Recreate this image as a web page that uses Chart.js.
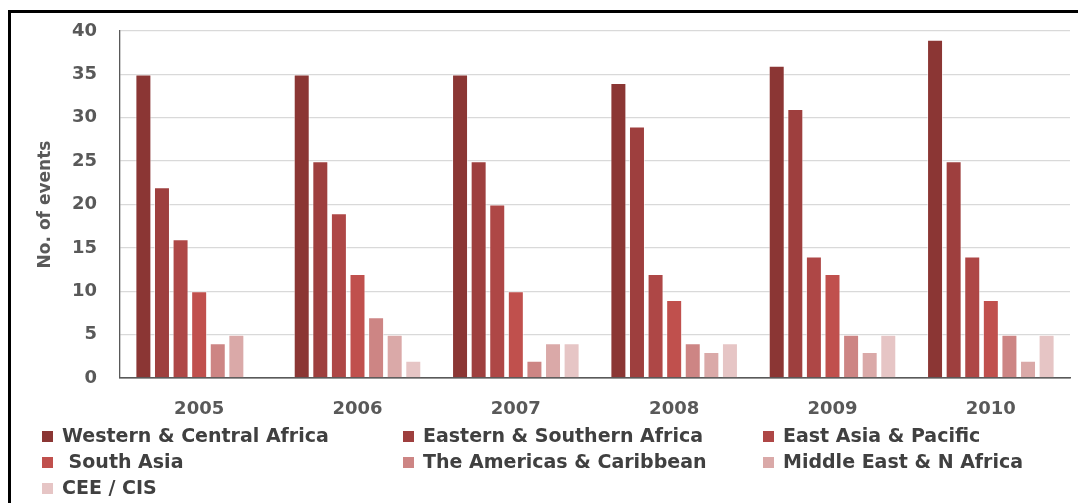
<!DOCTYPE html>
<html>
<head>
<meta charset="utf-8">
<script src="https://cdn.jsdelivr.net/npm/chart.js@4.4.1/dist/chart.umd.min.js"></script>
<style>
  html, body { margin: 0; padding: 0; background: #fff; }
  #wrap { position: relative; width: 1078px; height: 503px; overflow: hidden; }
  #frame { position: absolute; left: 8px; top: 10px; width: 1200px; height: 600px;
           border-left: 3px solid #000; border-top: 3px solid #000; box-sizing: border-box; }
  canvas { position: absolute; left: 0; top: 0; }
  #legend { position: absolute; left: 0; top: 0; width: 1078px; height: 503px; pointer-events: none;
            font-family: "DejaVu Sans", sans-serif; font-weight: 700; font-size: 19px; color: #404040; }
  .li { position: absolute; white-space: nowrap; line-height: 22px; }
  .sw { position: absolute; width: 11px; height: 11px; }
</style>
</head>
<body>
<div id="wrap">
  <canvas id="c" width="1078" height="503"></canvas>
  <div id="frame"></div>
  <div id="legend"></div>
</div>
<script>
const years = ["2005", "2006", "2007", "2008", "2009", "2010"];
const seriesNames = [
  "Western & Central Africa",
  "Eastern & Southern Africa",
  "East Asia & Pacific",
  " South Asia",
  "The Americas & Caribbean",
  "Middle East & N Africa",
  "CEE / CIS"
];
const westernCentralAfrica = [35, 35, 35, 34, 36, 39];
const easternSouthernAfrica = [22, 25, 25, 29, 31, 25];
const eastAsiaPacific = [16, 19, 20, 12, 14, 14];
const southAsia = [10, 12, 10, 9, 12, 9];
const americasCaribbean = [4, 7, 2, 4, 5, 5];
const middleEastNAfrica = [5, 5, 4, 3, 3, 2];
const ceeCis = [0, 2, 4, 4, 5, 5];
const yTicks = [0, 5, 10, 15, 20, 25, 30, 35, 40];
const colors = ["#8B3634", "#9E3F3E", "#AE4746", "#C0504D", "#CD8584", "#DAA9A8", "#E6C5C5"];

const seriesValues = [westernCentralAfrica, easternSouthernAfrica, eastAsiaPacific, southAsia,
                      americasCaribbean, middleEastNAfrica, ceeCis];

const datasets = seriesValues.map((vals, i) => ({
  label: seriesNames[i],
  data: vals,
  backgroundColor: colors[i],
  borderColor: "rgba(255,255,255,0.55)",
  borderWidth: 1,
  barPercentage: 0.86,
  categoryPercentage: 0.822
}));

const tickFont = { family: "'DejaVu Sans', sans-serif", size: 18, weight: "bold" };
const titleFont = { family: "'DejaVu Sans', sans-serif", size: 17, weight: "bold" };

new Chart(document.getElementById("c"), {
  type: "bar",
  data: { labels: years, datasets },
  options: {
    responsive: false,
    animation: false,
    devicePixelRatio: 1,
    layout: { padding: { left: 0, right: 8, top: 31, bottom: 0 } },
    plugins: { legend: { display: false }, tooltip: { enabled: false } },
    scales: {
      x: {
        grid: { display: false, drawTicks: false },
        border: { display: true, color: "#595959", width: 1.5 },
        ticks: { font: tickFont, color: "#595959", padding: 21 },
        afterFit: s => { s.height = 125; }
      },
      y: {
        min: 0, max: 40,
        afterBuildTicks: s => { s.ticks = yTicks.map(v => ({ value: v })); },
        grid: {
          drawTicks: false,
          color: ctx => (ctx.tick && ctx.tick.value === 0) ? "#595959" : "#d9d9d9",
          lineWidth: 1.3
        },
        border: { display: true, color: "#595959", width: 1.3 },
        ticks: { font: tickFont, color: "#595959", padding: 23 },
        title: {
          display: true, text: "No. of events", color: "#595959",
          font: titleFont, padding: { top: 35, bottom: 0 }
        },
        afterFit: s => { s.width = 120; s.paddingTop = 0; s.paddingBottom = 0; }
      }
    }
  }
});

// legend in a 3-column grid, built from the series arrays
const legend = document.getElementById("legend");
const colX = [42, 403, 763];
const rowY = [436, 462, 488];
seriesNames.forEach((name, i) => {
  const col = i % 3, row = Math.floor(i / 3);
  const sw = document.createElement("div");
  sw.className = "sw";
  sw.style.left = colX[col] + "px";
  sw.style.top = (rowY[row] - 5) + "px";
  sw.style.background = colors[i];
  legend.appendChild(sw);
  const t = document.createElement("div");
  t.className = "li";
  t.style.left = (colX[col] + 20) + "px";
  t.style.top = (rowY[row] - 12) + "px";
  t.textContent = name;
  if (name.startsWith(" ")) { t.style.whiteSpace = "pre"; }
  legend.appendChild(t);
});
</script>
</body>
</html>
